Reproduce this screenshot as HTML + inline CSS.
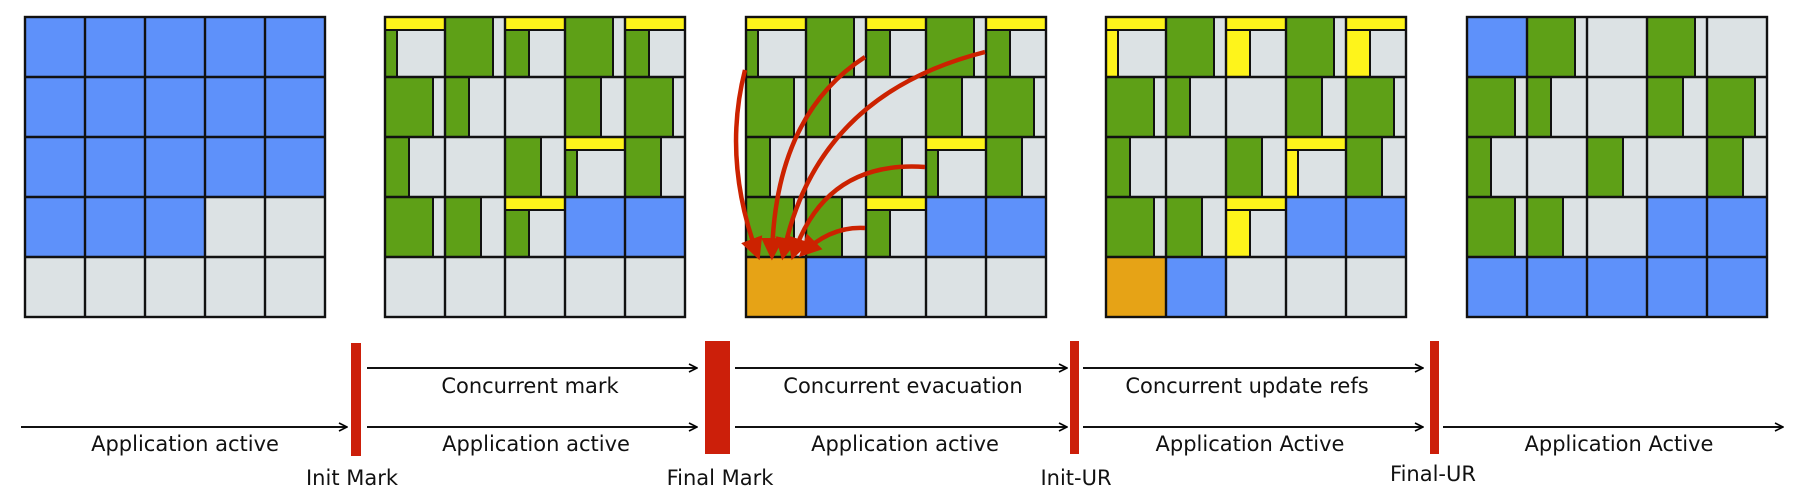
<!DOCTYPE html>
<html><head><meta charset="utf-8"><style>
html,body{margin:0;padding:0;background:#fff;}
svg{display:block;}
text{font-family:"DejaVu Sans","Liberation Sans",sans-serif;font-size:21px;fill:#111;text-anchor:middle;}
</style></head><body>
<svg width="1797" height="498" viewBox="0 0 1797 498" xmlns="http://www.w3.org/2000/svg">
<defs>
<marker id="ah" viewBox="0 0 10 10" refX="9" refY="5" markerWidth="10" markerHeight="10" markerUnits="userSpaceOnUse" orient="auto">
<path d="M1,1 L9,5 L1,9" fill="none" stroke="#000" stroke-width="1.6"/>
</marker>
<marker id="rh" viewBox="0 0 10 10" refX="8" refY="5" markerWidth="5" markerHeight="5" orient="auto">
<path d="M0,0 L10,5 L0,10 z" fill="#cc2200"/>
</marker>
<g id="lines" fill="none" stroke="#111" stroke-width="2.4">
<rect x="0" y="0" width="300" height="300"/>
<path d="M60,0V300M120,0V300M180,0V300M240,0V300M0,60H300M0,120H300M0,180H300M0,240H300"/>
</g>
<g id="g2">
<rect x="0" y="0" width="300" height="300" fill="#dce2e4"/>
<rect x="180" y="180" width="120" height="60" fill="#5e91fa"/>
<g fill="#5ea017" stroke="#111" stroke-width="2">
<rect x="0" y="13" width="12" height="47"/>
<rect x="60" y="0" width="48" height="60"/>
<rect x="120" y="13" width="24" height="47"/>
<rect x="180" y="0" width="48" height="60"/>
<rect x="240" y="13" width="24" height="47"/>
<rect x="0" y="60" width="48" height="60"/>
<rect x="60" y="60" width="24" height="60"/>
<rect x="180" y="60" width="36" height="60"/>
<rect x="240" y="60" width="48" height="60"/>
<rect x="0" y="120" width="24" height="60"/>
<rect x="120" y="120" width="36" height="60"/>
<rect x="180" y="133" width="12" height="47"/>
<rect x="240" y="120" width="36" height="60"/>
<rect x="0" y="180" width="48" height="60"/>
<rect x="60" y="180" width="36" height="60"/>
<rect x="120" y="193" width="24" height="47"/>
</g>
<g fill="#fef41b" stroke="#111" stroke-width="2">
<rect x="0" y="0" width="60" height="13"/>
<rect x="120" y="0" width="60" height="13"/>
<rect x="240" y="0" width="60" height="13"/>
<rect x="180" y="120" width="60" height="13"/>
<rect x="120" y="180" width="60" height="13"/>
</g>
</g>
</defs>

<g transform="translate(25,17)">
<rect x="0" y="0" width="300" height="300" fill="#dce2e4"/>
<rect x="0" y="0" width="300" height="180" fill="#5e91fa"/>
<rect x="0" y="180" width="180" height="60" fill="#5e91fa"/>
<use href="#lines"/>
</g>

<g transform="translate(385,17)">
<use href="#g2"/>
<use href="#lines"/>
</g>

<g transform="translate(746,17)">
<use href="#g2"/>
<rect x="0" y="240" width="60" height="60" fill="#e6a316"/>
<rect x="60" y="240" width="60" height="60" fill="#5e91fa"/>
<use href="#lines"/>
</g>

<g transform="translate(1106,17)">
<use href="#g2"/>
<g fill="#fef41b" stroke="#111" stroke-width="2">
<rect x="0" y="13" width="12" height="47"/>
<rect x="120" y="13" width="24" height="47"/>
<rect x="240" y="13" width="24" height="47"/>
<rect x="180" y="133" width="12" height="47"/>
<rect x="120" y="193" width="24" height="47"/>
</g>
<rect x="0" y="240" width="60" height="60" fill="#e6a316"/>
<rect x="60" y="240" width="60" height="60" fill="#5e91fa"/>
<use href="#lines"/>
</g>

<g transform="translate(1467,17)">
<rect x="0" y="0" width="300" height="300" fill="#dce2e4"/>
<rect x="0" y="0" width="60" height="60" fill="#5e91fa"/>
<rect x="180" y="180" width="120" height="60" fill="#5e91fa"/>
<rect x="0" y="240" width="300" height="60" fill="#5e91fa"/>
<g fill="#5ea017" stroke="#111" stroke-width="2">
<rect x="60" y="0" width="48" height="60"/>
<rect x="180" y="0" width="48" height="60"/>
<rect x="0" y="60" width="48" height="60"/>
<rect x="60" y="60" width="24" height="60"/>
<rect x="180" y="60" width="36" height="60"/>
<rect x="240" y="60" width="48" height="60"/>
<rect x="0" y="120" width="24" height="60"/>
<rect x="120" y="120" width="36" height="60"/>
<rect x="240" y="120" width="36" height="60"/>
<rect x="0" y="180" width="48" height="60"/>
<rect x="60" y="180" width="36" height="60"/>
</g>
<use href="#lines"/>
</g>

<g fill="none" stroke="#cc2200" stroke-width="4.5" marker-end="url(#rh)">
<path d="M745,70 Q722,160 758,256"/>
<path d="M865,57 Q775,115 772,256"/>
<path d="M985,52 Q815,95 783,256"/>
<path d="M925,167 Q825,160 793,256"/>
<path d="M865,228 Q830,226 802,254"/>
</g>

<g stroke="#111" stroke-width="2" fill="none" marker-end="url(#ah)">
<path d="M21,427H347"/>
<path d="M367,368H697"/>
<path d="M367,427H697"/>
<path d="M735,368H1067"/>
<path d="M735,427H1067"/>
<path d="M1083,368H1423"/>
<path d="M1083,427H1423"/>
<path d="M1443,427H1783"/>
</g>
<g fill="#cc1f0a">
<rect x="351" y="343" width="10" height="113"/>
<rect x="705" y="341" width="25" height="113"/>
<rect x="1070" y="341" width="9" height="113"/>
<rect x="1430" y="341" width="9" height="113"/>
</g>

<text x="530" y="393">Concurrent mark</text>
<text x="903" y="393">Concurrent evacuation</text>
<text x="1247" y="393">Concurrent update refs</text>
<text x="185" y="451">Application active</text>
<text x="536" y="451">Application active</text>
<text x="905" y="451">Application active</text>
<text x="1250" y="451">Application Active</text>
<text x="1619" y="451">Application Active</text>
<text x="352" y="485">Init Mark</text>
<text x="720" y="485">Final Mark</text>
<text x="1076" y="485">Init-UR</text>
<text x="1433" y="481">Final-UR</text>
</svg>
</body></html>
